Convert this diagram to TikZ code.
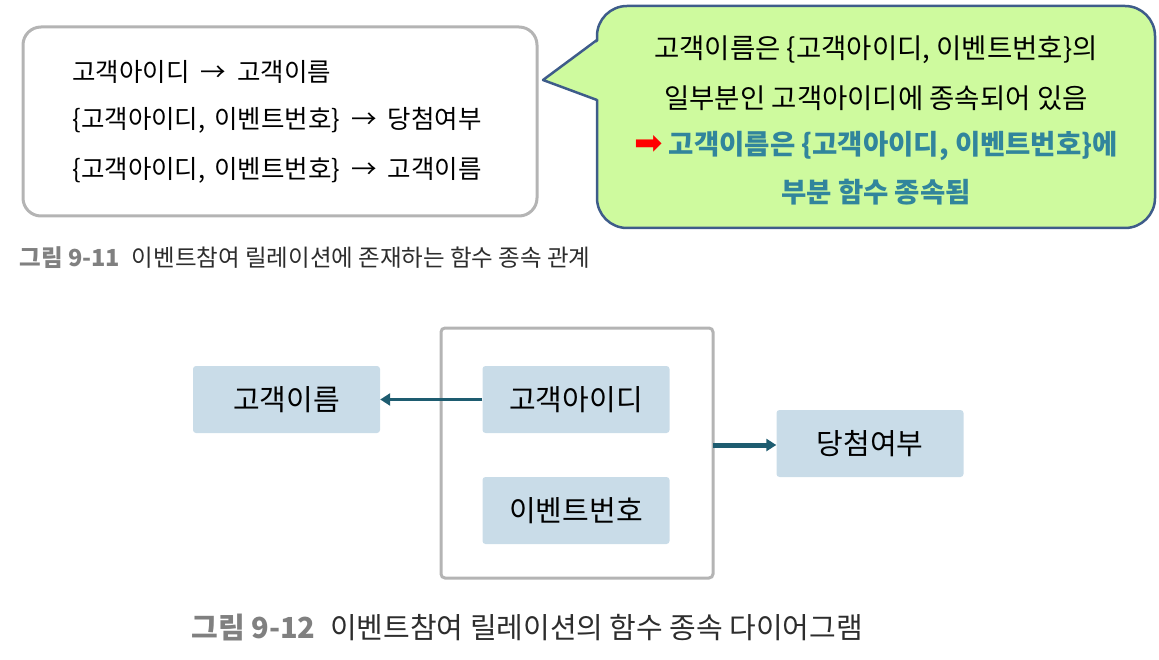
\documentclass[tikz,border=0pt]{standalone}
\usepackage{fontspec}
\setmainfont{Noto Sans CJK KR}
\newfontfamily\symfont{DejaVu Sans}
\usetikzlibrary{arrows.meta,positioning}

\definecolor{boxgray}{RGB}{180,180,180}
\definecolor{calloutfill}{RGB}{206,250,158}
\definecolor{calloutline}{RGB}{62,92,138}
\definecolor{teal}{RGB}{49,133,156}
\definecolor{nodeblue}{RGB}{201,220,232}
\definecolor{arrowteal}{RGB}{30,92,112}
\definecolor{capgray}{RGB}{128,128,128}
\definecolor{captext}{RGB}{45,45,45}

\newcommand{\fdto}{\hspace{11pt}→\hspace{11pt}}
\newcommand{\fdsep}{,\hspace{9pt}}

\tikzset{
  entity/.style={fill=nodeblue,rounded corners=3pt,minimum width=187pt,minimum height=67pt,font=\fontsize{29}{33}\selectfont},
  fdarrow/.style={draw=arrowteal,-{Triangle[length=10pt,width=12pt]}},
}

\begin{document}
\begin{tikzpicture}[x=1pt,y=-1pt]
      \useasboundingbox (0,0) rectangle (1159,660);

      % figure 9-11
      \draw[boxgray,line width=3pt,rounded corners=18pt] (23,27) rectangle (537,216);
      \begin{scope}[every node/.style={anchor=west,font=\fontsize{25.5}{30}\selectfont,text=black}]
        \node (fd1) at (69,72)  {고객아이디\fdto 고객이름};
        \node (fd2) at (69,120) {\{고객아이디\fdsep 이벤트번호\}\fdto 당첨여부};
        \node (fd3) at (69,170) {\{고객아이디\fdsep 이벤트번호\}\fdto 고객이름};
      \end{scope}
      \node[anchor=west,font=\fontsize{23.5}{28}\selectfont] (cap1) at (16,258)
        {\textcolor{capgray}{\bfseries 그림 9-11}\enspace\textcolor{captext}{이벤트참여 릴레이션에 존재하는 함수 종속 관계}};

      % callout
      \draw[calloutline,fill=calloutfill,line width=2.5pt,rounded corners=30pt] (597,6) rectangle (1155,228);
      \fill[calloutfill] (543,80) -- (600,40) -- (600,100) -- cycle;
      \draw[calloutline,line width=2.5pt,line join=round] (597,40) -- (543,80) -- (597,100);
      \begin{scope}[every node/.style={font=\fontsize{27.5}{32}\selectfont}]
        \node (note1) at (876,50)  {고객이름은 \{고객아이디, 이벤트번호\}의};
        \node (note2) at (876,98)  {일부분인 고객아이디에 종속되어 있음};
        \node[text=teal] (note3) at (876,146) {\textcolor{red}{\symfont\fontsize{34}{36}\selectfont ➡} \bfseries 고객이름은 \{고객아이디, 이벤트번호\}에};
        \node[text=teal] (note4) at (876,192) {\bfseries 부분 함수 종속됨};
      \end{scope}

      % figure 9-12
      \draw[boxgray,line width=3pt,rounded corners=4pt] (441,328) rectangle (713,578);
      \begin{scope}[every node/.style={entity}]
        \node (name)  at (286.5,399.5) {고객이름};
        \node (id)    at (576,399.5)   {고객아이디};
        \node (event) at (576,510.5)   {이벤트번호};
        \node (win)   at (870,443.5)   {당첨여부};
      \end{scope}
      \coordinate (key) at (713,445);
      \path[fdarrow,line width=3pt] (id.west) -- (name.east);
      \path[fdarrow,line width=5pt] (key) -- (key -| win.west);

      \node[anchor=west,font=\fontsize{29}{33}\selectfont] (cap2) at (188,628)
        {\textcolor{capgray}{\bfseries 그림 9-12}\enspace\textcolor{captext}{이벤트참여 릴레이션의 함수 종속 다이어그램}};

    \end{tikzpicture}
\end{document}
